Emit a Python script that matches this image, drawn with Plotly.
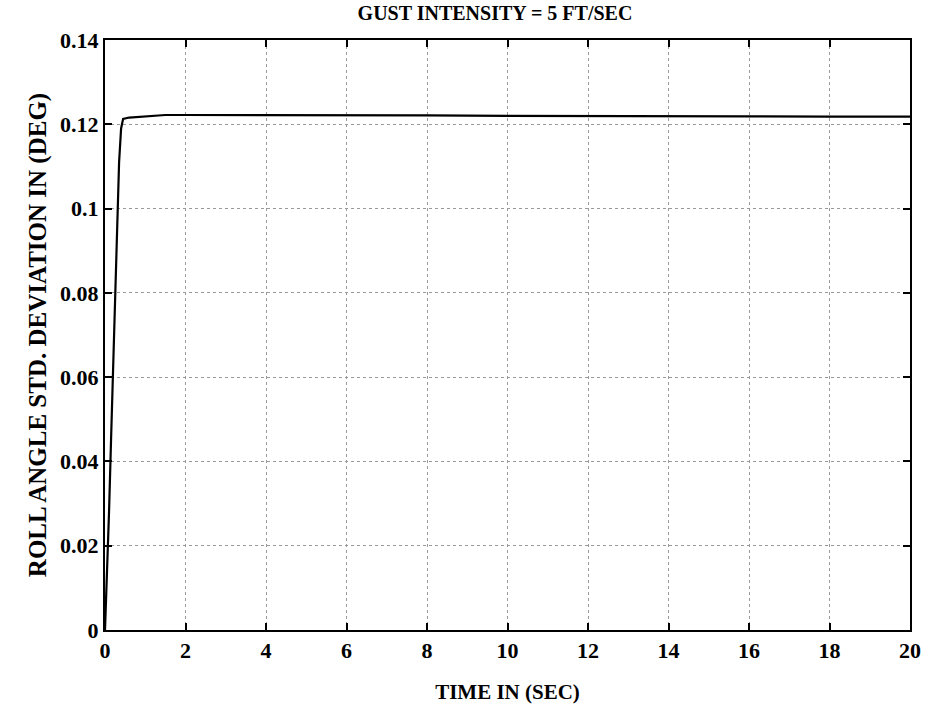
import plotly.graph_objects as go

# Data
time_s = [0, 0.05, 0.1, 0.15, 0.2, 0.25, 0.3, 0.35, 0.4, 0.45, 0.6, 1.0, 1.5, 2, 3, 4, 6, 8, 10, 12, 14, 16, 18, 20]
roll_std = [0, 0.012, 0.028, 0.045, 0.062, 0.080, 0.097, 0.111, 0.119, 0.1213, 0.1216, 0.1219, 0.1222, 0.1222, 0.1222, 0.1222, 0.1221, 0.1221, 0.1220, 0.1220, 0.1219, 0.1219, 0.1218, 0.1218]

x_ticks = [0, 2, 4, 6, 8, 10, 12, 14, 16, 18, 20]
y_ticks = [0, 0.02, 0.04, 0.06, 0.08, 0.1, 0.12, 0.14]
y_tick_text = ["0", "0.02", "0.04", "0.06", "0.08", "0.1", "0.12", "0.14"]

title_text = "GUST INTENSITY = 5 FT/SEC"
x_title = "TIME IN (SEC)"
y_title = "ROLL ANGLE STD. DEVIATION IN (DEG)"

serif = "Liberation Serif, Times New Roman, serif"

fig = go.Figure()
fig.add_trace(go.Scatter(x=time_s, y=roll_std, mode="lines",
                         line=dict(color="black", width=2.2), showlegend=False))

axis_common = dict(
    showline=True, linecolor="black", linewidth=2, mirror="ticks",
    ticks="inside", ticklen=7, tickwidth=1.5, tickcolor="black",
    showgrid=True, gridcolor="#9a9a9a", gridwidth=1, griddash="dot",
    zeroline=False,
    tickfont=dict(family=serif, size=22, color="black", weight="bold"),
)

fig.update_layout(
    width=933, height=719,
    margin=dict(l=105, r=15, t=40, b=89),
    paper_bgcolor="white", plot_bgcolor="white",
    title=dict(text=title_text, x=495 / 933, xanchor="center", y=1 - 13 / 719, yanchor="middle",
               font=dict(family=serif, size=20, color="black", weight="bold")),
    xaxis=dict(range=[0, 20], tickvals=x_ticks, ticktext=[str(v) for v in x_ticks],
               title=dict(text=x_title, font=dict(family=serif, size=21, color="black", weight="bold"),
                          standoff=22),
               **axis_common),
    yaxis=dict(range=[0, 0.14], tickvals=y_ticks, ticktext=y_tick_text,
               title=dict(text=y_title, font=dict(family=serif, size=25, color="black", weight="bold"),
                          standoff=6),
               **axis_common),
)

fig.write_html("out.html")
